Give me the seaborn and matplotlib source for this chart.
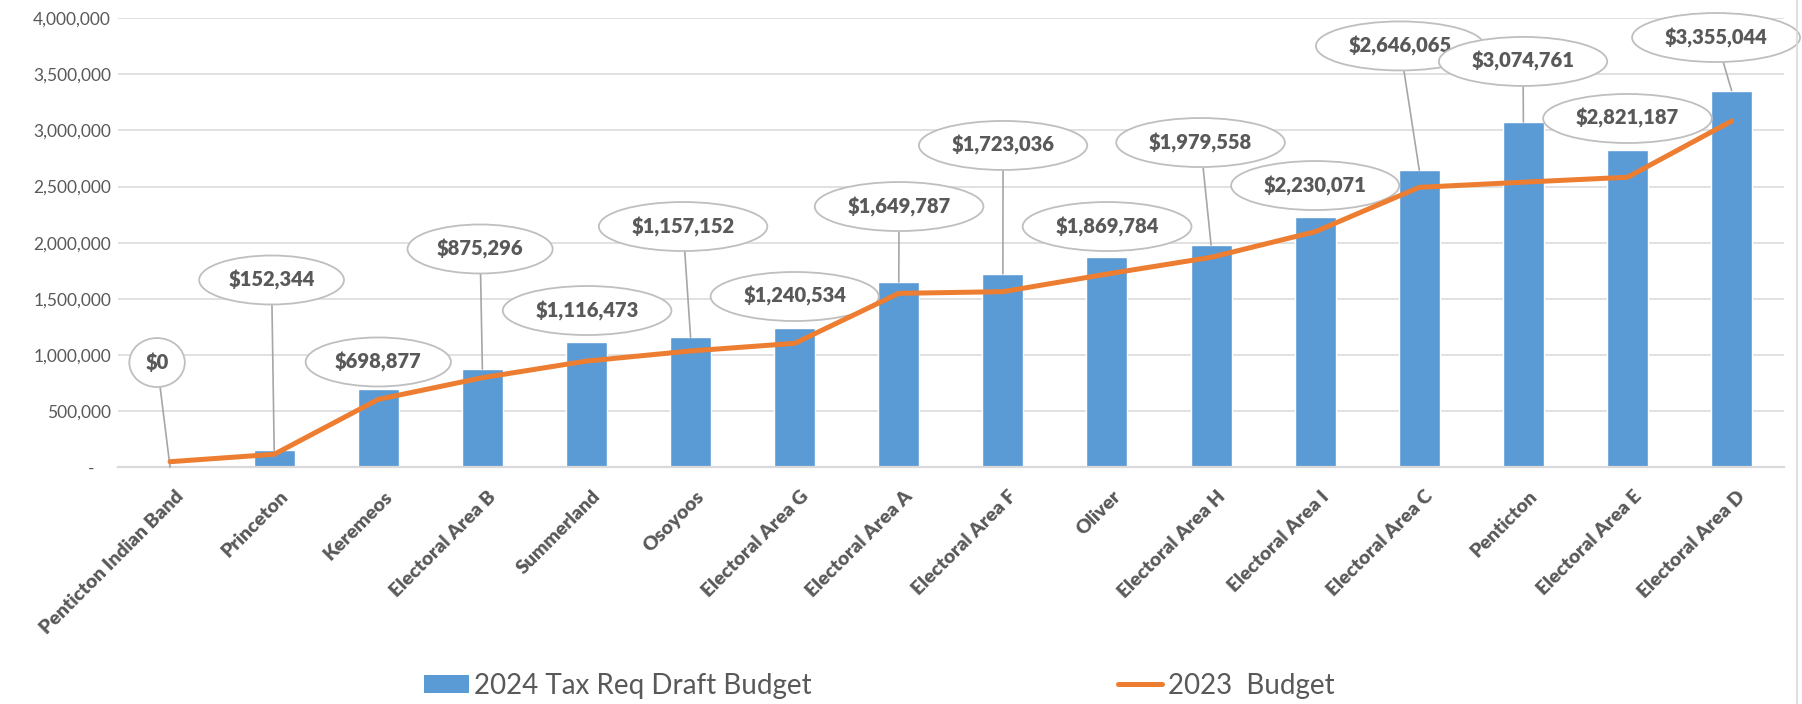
import numpy as np
import seaborn as sns
import matplotlib
matplotlib.use('Agg')
import matplotlib.pyplot as plt
from matplotlib.patches import Patch
from matplotlib.lines import Line2D
from matplotlib.path import Path
from matplotlib.transforms import Affine2D, ScaledTranslation
from matplotlib.ticker import FuncFormatter

categories = [
    'Penticton Indian Band', 'Princeton', 'Keremeos', 'Electoral Area B',
    'Summerland', 'Osoyoos', 'Electoral Area G', 'Electoral Area A',
    'Electoral Area F', 'Oliver', 'Electoral Area H', 'Electoral Area I',
    'Electoral Area C', 'Penticton', 'Electoral Area E', 'Electoral Area D',
]
draft_2024 = [
    0, 152344, 698877, 875296, 1116473, 1157152, 1240534, 1649787,
    1723036, 1869784, 1979558, 2230071, 2646065, 3074761, 2821187, 3355044,
]
budget_2023 = [
    50000, 116000, 605000, 798000, 946000, 1036000, 1104000, 1549000,
    1564000, 1721000, 1870000, 2098000, 2493000, 2539000, 2583000, 3083000,
]
series_names = ['2024 Tax Req Draft Budget', '2023  Budget']

# where each callout ellipse sits (category units, value units)
callout_x = [-0.125, 0.975, 2.0, 2.978, 4.006, 4.928, 6.0, 7.003,
             8.002, 9.001, 9.899, 11.0, 11.816, 12.997, 14.0, 14.851]
callout_y = [933000, 1668000, 938000, 1944000, 1396000, 2144000, 1521000, 2322000,
             2866000, 2144000, 2892000, 2509000, 3752000, 3614000, 3106000, 3827000]

BLUE = '#5B9BD5'
ORANGE = '#ED7D31'
GREY = '#595959'

sns.set_style('white')
plt.rcParams['font.family'] = ['Lato', 'DejaVu Sans']


def ellipse_box(x0, y0, width, height, mutation_size):
    a = (width + 16) / np.sqrt(2)
    b = 24.5
    trans = Affine2D().scale(a, b).translate(x0 + width / 2, y0 + height / 2)
    return trans.transform_path(Path.unit_circle())


fig = plt.figure(figsize=(18.02, 7.04), dpi=100)
ax = fig.add_axes([0.0655, 0.3362, 0.9243, 0.6381])

x = np.arange(len(categories))
sns.barplot(x=x, y=draft_2024, color=BLUE, saturation=1, width=0.394, ax=ax, zorder=2)
sns.lineplot(x=x, y=budget_2023, color=ORANGE, lw=3.6, ax=ax, zorder=5,
             solid_capstyle='round')

ax.set_xlim(-0.5, len(categories) - 0.5)
ax.set_ylim(0, 4000000)
ax.set_yticks(np.arange(0, 4000001, 500000))
ax.yaxis.set_major_formatter(FuncFormatter(lambda v, p: '-' if v == 0 else f'{v:,.0f}'))
ax.tick_params(axis='y', length=0, pad=5, labelsize=12.5, labelcolor=GREY)
ax.yaxis.grid(True, color='#d9d9d9', lw=1.1)
ax.set_axisbelow(True)
for s in ['left', 'top', 'right']:
    ax.spines[s].set_visible(False)
ax.spines['bottom'].set_color('#d9d9d9')
ax.spines['bottom'].set_linewidth(1.6)

# accounting style: the zero dash sits further left
zero_tick = ax.yaxis.get_major_ticks()[0]
zero_tick.label1.set_transform(zero_tick.label1.get_transform()
                               + ScaledTranslation(-12 / 72, 0, fig.dpi_scale_trans))

ax.set_xticks(x)
ax.set_xticklabels(categories, rotation=45, ha='right', va='center',
                   rotation_mode='anchor', fontweight='heavy', fontsize=14, color=GREY)
ax.tick_params(axis='x', length=0, pad=19)
shift = ScaledTranslation(8 / 72, 0, fig.dpi_scale_trans)
for lab in ax.get_xticklabels():
    lab.set_transform(lab.get_transform() + shift)
ax.set_xlabel('')
ax.set_ylabel('')

for i, v in enumerate(draft_2024):
    lx, ly = callout_x[i], callout_y[i]
    leader = None
    if ly - v > 350000:
        leader = dict(arrowstyle='-', color='#a6a6a6', lw=1.2, shrinkA=0, shrinkB=0)
    ax.annotate(f'${v:,.0f}', xy=(i, v), xytext=(lx, ly), textcoords='data',
                ha='center', va='center', fontsize=14.5, fontweight='heavy', color=GREY,
                bbox=dict(boxstyle=ellipse_box, fc='white', ec='#bfbfbf', lw=1.3),
                arrowprops=leader, annotation_clip=False, zorder=4)

handles = [
    Patch(facecolor=BLUE, edgecolor='none'),
    Line2D([], [], color=ORANGE, lw=3.6, solid_capstyle='round'),
]
fig.legend(handles, series_names, loc='center', bbox_to_anchor=(0.488, 0.026),
           ncol=2, frameon=False, fontsize=20, labelcolor=GREY,
           handlelength=1.6, handleheight=0.6, handletextpad=0.2, columnspacing=11)

fig.add_artist(Line2D([0.9972, 0.9972], [0, 1], color='#d9d9d9', lw=1.2,
                      transform=fig.transFigure))

fig.savefig('out.png', dpi=100, facecolor='white')
